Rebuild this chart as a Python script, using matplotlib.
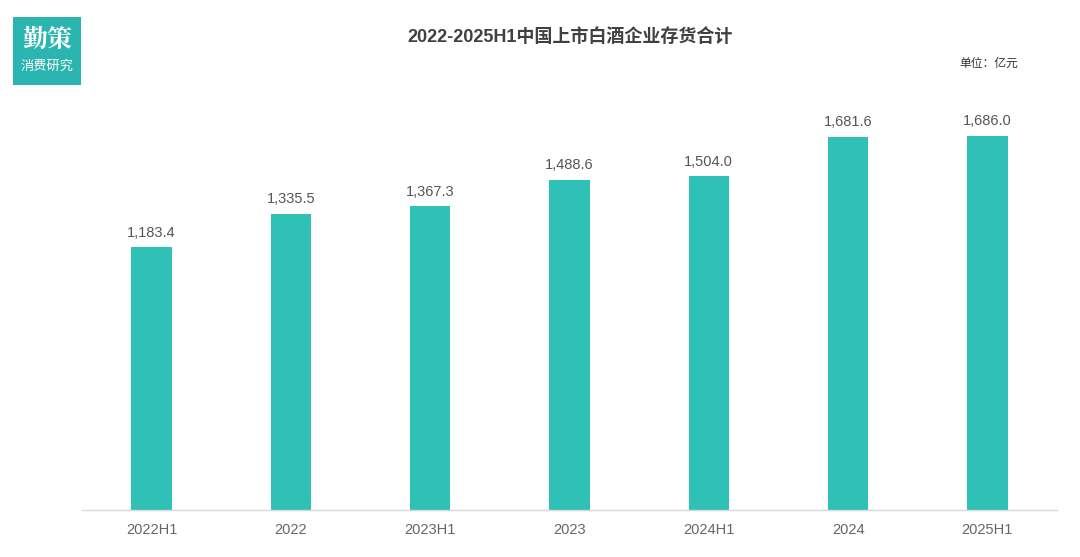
import matplotlib
matplotlib.use("Agg")
import matplotlib.pyplot as plt
from matplotlib.patches import Rectangle

plt.rcParams['font.family'] = ['Noto Sans CJK SC', 'DejaVu Sans']

categories = ['2022H1', '2022', '2023H1', '2023', '2024H1', '2024', '2025H1']
values = [1183.4, 1335.5, 1367.3, 1488.6, 1504.0, 1681.6, 1686.0]
title = '2022-2025H1中国上市白酒企业存货合计'
unit = '单位：亿元'

bar_color = '#2fc1b5'

fig = plt.figure(figsize=(10.8, 5.57), dpi=100)
ax = fig.add_axes([82/1080, 47/557, 975/1080, 410/557])
x = list(range(len(categories)))
ax.bar(x, values, width=0.29, color=bar_color, zorder=2)
ax.set_xlim(-0.5, len(categories) - 0.5)
ax.set_ylim(0, 1847)
for xi, v in zip(x, values):
    ax.annotate(f'{v:,.1f}', (xi, v), xytext=(0, 5.5), textcoords='offset points',
                ha='center', va='bottom', fontsize=10.5, color='#555555',
                family=['Liberation Sans', 'DejaVu Sans'])
ax.set_xticks(x)
ax.set_xticklabels(categories, fontsize=10.5, color='#666666',
                   family=['Liberation Sans', 'DejaVu Sans'])
ax.tick_params(axis='x', length=0, pad=9)
ax.set_yticks([])
for s in ['top', 'right', 'left']:
    ax.spines[s].set_visible(False)
ax.spines['bottom'].set_color('#d9d9d9')
ax.spines['bottom'].set_linewidth(1.0)

fig.text(570/1080, 1 - 37/557, title, ha='center', va='center',
         fontsize=13, fontweight='bold', color='#404040',
         family=['Liberation Sans', 'Noto Sans CJK SC'])
fig.text(1018/1080, 1 - 63/557, unit, ha='right', va='center',
         fontsize=8.5, color='#333333')

# logo
logo = fig.add_axes([13/1080, 1 - 85/557, 68/1080, 68/557])
logo.add_patch(Rectangle((0, 0), 1, 1, color='#2bb5b0'))
logo.set_xlim(0, 1); logo.set_ylim(0, 1); logo.axis('off')
logo.text(0.5, 0.66, '勤策', ha='center', va='center', fontsize=18,
          color='white', fontweight='bold',
          family=['Noto Serif CJK SC', 'Noto Sans CJK SC'])
logo.text(0.5, 0.28, '消费研究', ha='center', va='center', fontsize=9.5,
          color='white')

fig.savefig('out.png', dpi=100)
